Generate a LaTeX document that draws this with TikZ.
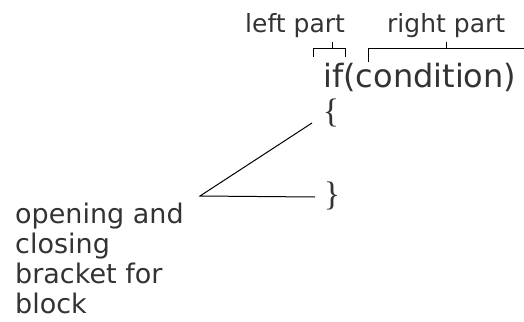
\documentclass[tikz,border=0pt]{standalone}
\usepackage{fontspec}
\setmainfont{DejaVu Sans}
\newfontfamily\bracefont{Liberation Serif}
\definecolor{txt}{HTML}{333333}
\begin{document}
\begin{tikzpicture}[x=1pt,y=-1pt,
  lbl/.style={inner sep=0pt,anchor=base west,text=txt,font=\fontsize{25}{28}\selectfont},
  code/.style={inner sep=0pt,anchor=base west,text=txt,font=\fontsize{32}{36}\selectfont},
  brc/.style={inner sep=0pt,anchor=center,text=txt,font=\bracefont\fontsize{34}{36}\selectfont},
  body/.style={inner sep=0pt,anchor=base west,text=txt,align=left,font=\fontsize{27}{30}\selectfont},
  bline/.style={draw=black,line width=1pt},
  conn/.style={draw=black,line width=1pt}]
\useasboundingbox (0,0) rectangle (524,321);
% labels
\node[lbl] (lp) at (245,33) {left part};
\node[lbl] (rp) at (387,33) {right part};
% code
\node[code] (cond) at (323,87) {if(condition)};
% braces
\node[brc] (ob) at (331,113) {\{};
\node[brc] (cb) at (332,196) {\}};
% description (base anchor = last line)
\node[body] (desc) at (15,313) {opening and\\closing\\bracket for\\block};
% left part bracket
\draw[bline] (313,57) -- (313,49) -- (345,49) -- (345,57);
\draw[bline] (332,49) -- (332,42);
% right part bracket
\draw[bline] (368,62) -- (368,49) -- (526,49);
\draw[bline] (446,49) -- (446,42);
% connectors
\coordinate (j) at (200,196);
\coordinate (oe) at (312,123);
\coordinate (ce) at (315,197);
\draw[conn] (oe) -- (j) -- (ce);
\end{tikzpicture}
\end{document}
